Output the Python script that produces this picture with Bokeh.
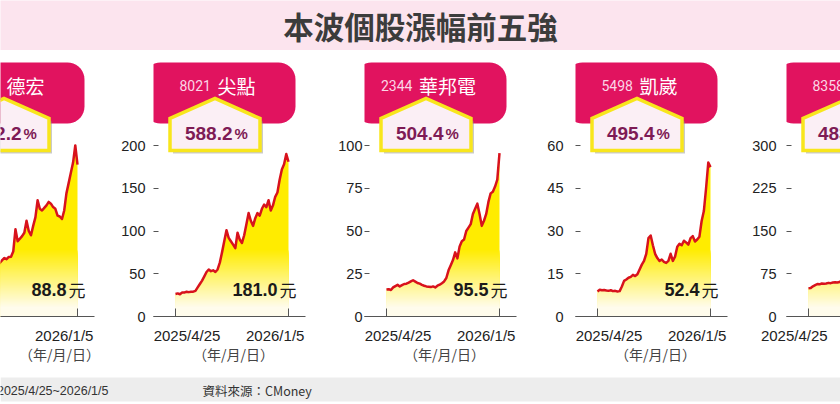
import numpy as np
from bokeh.plotting import figure
from bokeh.layouts import row, column
from bokeh.models import Range1d, FixedTicker, LinearAxis
from bokeh.embed import file_html
from bokeh.resources import INLINE
from bokeh.core.properties import value

# ---------------- data ----------------
title_text = "本波個股漲幅前五強"
period_text = "2025/4/25~2026/1/5"
source_text = "資料來源：CMoney"
axis_unit = "（年/月/日）"
price_unit = "元"

days = list(range(0, 256, 5))          # days since 2025/4/25 (255 = 2026/1/5)
date_tick_days = [0, 255]
date_label_days = [26, 225]
date_labels = ["2025/4/25", "2026/1/5"]

codes = ["5475", "8021", "2344", "5498", "8358"]
names = ["德宏", "尖點", "華邦電", "凱崴", "金居"]
gains = ["652.2", "588.2", "504.4", "495.4", "483.1"]
last_prices = ["88.8", "181.0", "95.5", "52.4", "289.0"]
y_ticks = [
    [0, 25, 50, 75, 100],
    [0, 50, 100, 150, 200],
    [0, 25, 50, 75, 100],
    [0, 15, 30, 45, 60],
    [0, 75, 150, 225, 300],
]

prices_dehong = [11.8, 12.5, 12.2, 13.5, 14.8, 15.5, 16.8, 18.5, 19.6, 21.0,
                 22.5, 24.0, 25.5, 27.0, 28.5, 30.0, 31.5, 33.0, 34.2, 33.5,
                 34.8, 35.0, 38.0, 51.0, 44.0, 45.5, 47.0, 49.0, 56.0, 50.0,
                 47.5, 53.0, 58.0, 68.0, 63.0, 62.0, 63.5, 65.0, 67.0, 66.0,
                 64.0, 63.0, 59.0, 58.5, 57.0, 62.0, 72.0, 78.0, 84.0, 90.0,
                 100.0, 88.8]
prices_jiandian = [26.3, 27, 26, 28, 28, 29, 28.5, 29, 29, 30,
                   34, 38, 42, 47, 52, 55, 53, 54, 52, 55,
                   63, 75, 88, 101, 92, 88, 84, 80, 98, 90,
                   86, 95, 108, 121, 112, 106, 115, 121, 118, 126,
                   131, 128, 136, 124, 130, 140, 145, 160, 172, 178,
                   190, 181.0]
prices_winbond = [15.8, 16, 15.5, 17, 17.8, 18.5, 17.6, 18.3, 19, 19.2,
                  19.8, 20.5, 21.2, 20.4, 19.6, 19.2, 18.5, 18, 17.6, 17.4,
                  17.2, 17.6, 17, 18, 18.6, 19.5, 20.5, 22.5, 27, 30,
                  33, 37.5, 34, 41, 44, 45, 50, 52, 54, 60,
                  63, 66, 60, 53, 56, 60, 67, 72, 73, 76,
                  80, 95.5]
prices_kaiwei = [8.8, 9.4, 9.2, 9.3, 9.1, 9.0, 9.2, 8.9, 9.0, 8.8,
                 8.9, 10.5, 12.5, 13, 13.6, 13.9, 14.6, 14.2, 14.8, 16.5,
                 18.2, 19.5, 22, 27.5, 28.4, 25, 22, 20.5, 19.5, 20,
                 19.2, 18.8, 19.5, 22, 19.5, 21, 24.5, 25.5, 25, 26.6,
                 26, 25.2, 27.5, 28.2, 26.3, 27, 28, 33.5, 37, 45,
                 54, 52.4]
prices_jinju = [49.6, 50, 53, 55, 57, 56.5, 58, 57.5, 58, 59,
                58.5, 59.5, 60, 59.5, 60.5, 63, 66, 70, 75, 82,
                88, 95, 92, 100, 110, 118, 125, 120, 130, 142,
                150, 145, 155, 165, 172, 168, 180, 190, 200, 195,
                210, 222, 230, 225, 240, 252, 260, 270, 280, 275,
                285, 289]
series = [prices_dehong, prices_jiandian, prices_winbond, prices_kaiwei, prices_jinju]

# ---------------- layout constants ----------------
TOP = 50          # height of title band
ROW_H = 326       # height of panel row
AXIS_Y = 316      # absolute y of x-axis
PXD = 113 / 255   # px per day
Y_STANDOFF = [5, 8, 2, 12, 10]

NUM_FONT = "Liberation Sans"
CJK_FONT = "Noto Sans CJK TC"

YELLOW = np.array([255, 236, 0])
PALE = np.array([255, 252, 236])


def hexcol(c):
    return "#%02x%02x%02x" % tuple(int(round(v)) for v in c)


def rounded_rect(l, r, t, b, rad, n=10):
    xs, ys = [], []
    for cx, cy, a0, a1 in [(r - rad, t + rad, -90, 0), (r - rad, b - rad, 0, 90),
                           (l + rad, b - rad, 90, 180), (l + rad, t + rad, 180, 270)]:
        for a in np.linspace(np.radians(a0), np.radians(a1), n):
            xs.append(cx + rad * np.cos(a))
            ys.append(cy + rad * np.sin(a))
    return xs, ys


def make_panel(i):
    if i == 0:
        width, lb, rb, fl, fr = 105, 0, 11, 106, 200
    elif i == 4:
        width, lb, rb, fl, fr = 102, 48, 0, 48, 102
    else:
        width, lb, rb, fl, fr = 211, 48, 11, 48, 200
    ppu = 171 / y_ticks[i][-1]

    def xd(px):
        return (px - 70) / PXD

    def yv(py):
        return (AXIS_Y - py) / ppu

    p = figure(width=width, height=ROW_H,
               x_range=Range1d(xd(fl), xd(fr)), y_range=Range1d(0, yv(TOP)),
               output_backend="svg", toolbar_location=None,
               x_axis_location=None, y_axis_location=None,
               min_border_left=lb, min_border_right=rb,
               min_border_top=0, min_border_bottom=60)
    p.outline_line_color = None
    p.background_fill_color = "white"
    p.border_fill_color = "white"
    p.xgrid.visible = False
    p.ygrid.visible = False

    xa = LinearAxis(ticker=FixedTicker(ticks=date_label_days, minor_ticks=date_tick_days),
                    major_label_overrides=dict(zip(date_label_days, date_labels)))
    xa.axis_line_color = "#555555"
    xa.major_tick_line_color = None
    xa.minor_tick_line_color = "#555555"
    xa.minor_tick_in = 8
    xa.minor_tick_out = 0
    xa.major_label_standoff = 4
    xa.major_label_text_font = NUM_FONT
    xa.major_label_text_font_size = "15px"
    xa.major_label_text_color = "#222222"
    p.add_layout(xa, "below")

    # unit caption under the date labels (as a second, tickless axis)
    unit_pos = round(xd(128), 2)
    ua = LinearAxis(ticker=FixedTicker(ticks=[unit_pos]),
                    major_label_overrides={unit_pos: axis_unit})
    ua.axis_line_color = None
    ua.major_tick_line_color = None
    ua.minor_tick_line_color = None
    ua.major_label_standoff = -9
    ua.major_label_text_font = CJK_FONT
    ua.major_label_text_font_size = "14px"
    ua.major_label_text_color = "#444444"
    p.add_layout(ua, "below")

    if i > 0:
        ya = LinearAxis(ticker=FixedTicker(ticks=y_ticks[i]))
        ya.axis_line_color = None
        ya.major_tick_line_color = "#555555"
        ya.major_tick_in = 5
        ya.major_tick_out = 0
        ya.minor_tick_line_color = None
        ya.major_label_standoff = Y_STANDOFF[i]
        ya.major_label_text_font = NUM_FONT
        ya.major_label_text_font_size = "14.5px"
        ya.major_label_text_color = "#222222"
        p.add_layout(ya, "left")

    vals = np.array(series[i], dtype=float)
    # gradient fill (painter's layering from top colour to pale bottom)
    p.varea(x=days, y1=0, y2=vals, fill_color=hexcol(YELLOW))
    for py in range(250, 308, 2):
        t = min(1.0, (py - 248) / 58)
        col = YELLOW + (PALE - YELLOW) * t
        p.varea(x=days, y1=0, y2=np.minimum(vals, yv(py)), fill_color=hexcol(col))
    p.line(x=days, y=vals, line_color="#d8121c", line_width=2.5, line_join="round")

    # last price label
    p.text(x=[xd(172)], y=[yv(289)], text=[last_prices[i]], text_font=value(NUM_FONT),
           text_font_size="18px", text_font_style="bold", text_color="#1a1a1a",
           text_align="right", text_baseline="middle")
    p.text(x=[xd(174)], y=[yv(289)], text=[price_unit], text_font=value(CJK_FONT),
           text_font_size="17px", text_color="#1a1a1a",
           text_align="left", text_baseline="middle")

    # magenta name box
    bx, by = rounded_rect(38, 190, 62, 123, 17)
    p.patch(x=[xd(v) for v in bx], y=[yv(v) for v in by], fill_color="#e1135f", line_color=None)
    c = 112
    code_w, gap, name_w = 30, 8, 19 * len(names[i])
    left = c - (code_w + gap + name_w) / 2
    p.text(x=[xd(left)], y=[yv(85)], text=[codes[i]], text_font=value("Roboto"),
           text_font_size="14px", text_color="#fbd6e6", text_align="left", text_baseline="middle")
    p.text(x=[xd(left + code_w + gap)], y=[yv(85)], text=[names[i]], text_font=value(CJK_FONT),
           text_font_size="19px", text_color="#ffffff", text_align="left", text_baseline="middle")

    # house-shaped badge with shadow
    hx = [64.5, 64.5, 109.5, 154.5, 154.5]
    hy = [150, 118, 98, 118, 150]
    p.patch(x=[xd(v + 3) for v in hx], y=[yv(v + 3) for v in hy], fill_color="#8a8a8a",
            fill_alpha=0.45, line_color=None)
    p.patch(x=[xd(v) for v in hx], y=[yv(v) for v in hy], fill_color="#fbeff5",
            line_color="#f8e61c", line_width=3.5, line_join="miter")
    p.text(x=[xd(127)], y=[yv(133)], text=[gains[i]], text_font=value(NUM_FONT),
           text_font_size="19px", text_font_style="bold", text_color="#7e1b55",
           text_align="right", text_baseline="middle")
    p.text(x=[xd(129)], y=[yv(133)], text=["%"], text_font=value(NUM_FONT),
           text_font_size="15px", text_font_style="bold", text_color="#7e1b55",
           text_align="left", text_baseline="middle")
    return p


# ---------------- title band ----------------
tf = figure(width=840, height=TOP, x_range=Range1d(0, 840), y_range=Range1d(0, TOP),
            output_backend="svg", toolbar_location=None,
            x_axis_location=None, y_axis_location=None, min_border=0)
tf.outline_line_color = None
tf.background_fill_color = "#fce4ee"
tf.border_fill_color = "#fce4ee"
tf.xgrid.visible = False
tf.ygrid.visible = False
tf.text(x=[420], y=[25], text=[title_text], text_font=value(CJK_FONT), text_font_size="30.5px",
        text_font_style="bold", text_color="#3c3c3c", text_align="center", text_baseline="middle")

# ---------------- footer ----------------
ff = figure(width=840, height=28, x_range=Range1d(0, 840), y_range=Range1d(0, 28),
            output_backend="svg", toolbar_location=None,
            x_axis_location=None, y_axis_location=None, min_border=0)
ff.outline_line_color = None
ff.background_fill_color = "white"
ff.border_fill_color = "white"
ff.xgrid.visible = False
ff.ygrid.visible = False
ff.quad(left=[0], right=[840], bottom=[3], top=[27], fill_color="#ededed", line_color=None)
ff.text(x=[108], y=[14], text=[period_text], text_font=value(NUM_FONT), text_font_size="12.5px",
        text_color="#333333", text_align="right", text_baseline="middle")
ff.text(x=[202], y=[14], text=[source_text], text_font=value(CJK_FONT), text_font_size="12.5px",
        text_color="#333333", text_align="left", text_baseline="middle")

panels = [make_panel(i) for i in range(5)]
layout = column(tf, row(*panels, spacing=0), ff, spacing=0)

open("out.html", "w").write(file_html(layout, INLINE))
